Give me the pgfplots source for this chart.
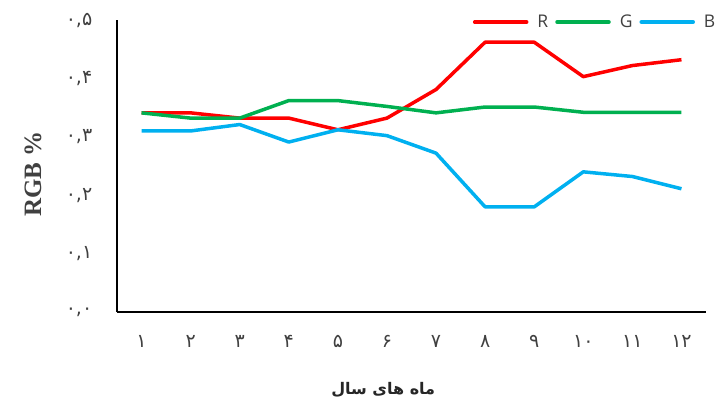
\documentclass[border=0pt]{standalone}
\usepackage{fontspec}
\usepackage{pgfplots}
\pgfplotsset{compat=1.18}
\setmainfont{Liberation Serif}
\newfontfamily\fa[Script=Arabic]{DejaVu Sans}
\newfontfamily\legfont{Open Sans}
\TeXXeTstate=1
\definecolor{cR}{HTML}{FF0000}
\definecolor{cG}{HTML}{00B050}
\definecolor{cB}{HTML}{00B0F0}
\definecolor{txt}{HTML}{404040}
\begin{document}
\begin{tikzpicture}
\useasboundingbox (-117bp,-93bp) rectangle (605bp,312bp);
\begin{axis}[
  at={(0,0)}, anchor=south west,
  scale only axis, width=589bp, height=292bp,
  xmin=0.5, xmax=12.5, ymin=0, ymax=0.5,
  axis x line*=bottom, axis y line*=left,
  axis line style={black, line width=1.2bp, -},
  major tick length=0,
  xtick={1,...,12},
  xticklabels={۱,۲,۳,۴,۵,۶,۷,۸,۹,۱۰,۱۱,۱۲},
  ytick={0,0.1,0.2,0.3,0.4,0.5},
  yticklabels={{۰,۰},{۰,۱},{۰,۲},{۰,۳},{۰,۴},{۰,۵}},
  xticklabel style={font=\fa\fontsize{19bp}{21bp}\selectfont, text=txt, anchor=center, yshift=-29bp},
  yticklabel style={font=\fa\fontsize{19bp}{21bp}\selectfont, text=txt, anchor=center, xshift=-38bp},
  xlabel={\beginR ماه های سال\endR},
  xlabel style={font=\fa\bfseries\fontsize{16bp}{18bp}\selectfont, text=black!85, at={(axis description cs:0.452,0)}, anchor=center, yshift=-78bp},
  ylabel={RGB \%},
  ylabel style={font=\bfseries\fontsize{25bp}{28bp}\selectfont, text=txt, at={(axis description cs:0,0.473)}, anchor=center, yshift=84bp},
  legend columns=3,
  legend style={draw=none, fill=none, inner sep=0pt, at={(axis description cs:0.604,0.993)}, anchor=west,
    font=\legfont\fontsize{17.5bp}{19bp}\selectfont, text=txt,
    /tikz/every odd column/.append style={column sep=7bp},
    /tikz/every even column/.append style={column sep=5bp}},
  legend image code/.code={\draw[#1, line cap=round] (0bp,0bp) -- (52bp,0bp);},
  every axis plot/.append style={line width=3.5bp, line join=round},
]
\addplot[cR] coordinates {(1,0.341)(2,0.341)(3,0.332)(4,0.332)(5,0.312)(6,0.332)(7,0.381)(8,0.462)(9,0.462)(10,0.403)(11,0.422)(12,0.432)};
\addlegendentry{R}
\addplot[cG] coordinates {(1,0.341)(2,0.332)(3,0.332)(4,0.362)(5,0.362)(6,0.352)(7,0.341)(8,0.351)(9,0.351)(10,0.342)(11,0.342)(12,0.342)};
\addlegendentry{G}
\addplot[cB] coordinates {(1,0.310)(2,0.310)(3,0.321)(4,0.291)(5,0.312)(6,0.302)(7,0.272)(8,0.180)(9,0.180)(10,0.240)(11,0.232)(12,0.211)};
\addlegendentry{B}
\end{axis}
\end{tikzpicture}
\end{document}
